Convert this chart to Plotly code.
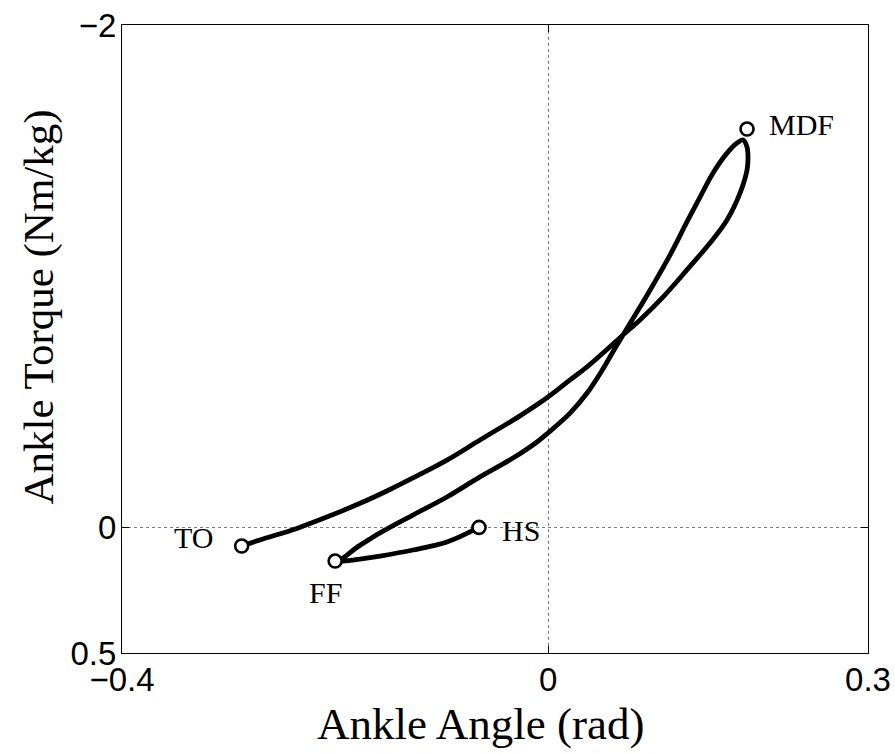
import plotly.graph_objects as go

# Ankle angle (rad) and torque (Nm/kg) along the gait cycle: HS -> FF -> MDF -> TO
angle = [-0.066, -0.0735, -0.0951, -0.127, -0.1579, -0.1767, -0.1926, -0.1983,
         -0.1926, -0.1804, -0.1673, -0.1579, -0.127, -0.0951, -0.0641, -0.0331,
         -0.0106, -0.0003, 0.0204, 0.0364, 0.0513, 0.0607, 0.0701, 0.0832,
         0.0983, 0.1142, 0.1301, 0.1424, 0.1546, 0.1677, 0.1771, 0.1828,
         0.1865, 0.1874, 0.1865, 0.1799, 0.1677, 0.1517, 0.1301, 0.1076, 0.086,
         0.0701, 0.0513, 0.0364, 0.0204, -0.0003, -0.0266, -0.0641, -0.0951,
         -0.127, -0.1486, -0.1739, -0.2049, -0.2359, -0.2678, -0.2866]
torque = [0.0, 0.018, 0.058, 0.09, 0.114, 0.126, 0.134, 0.134,
          0.122, 0.082, 0.046, 0.022, -0.049, -0.121, -0.201, -0.276,
          -0.34, -0.376, -0.455, -0.535, -0.631, -0.699, -0.766, -0.857,
          -0.965, -1.084, -1.216, -1.315, -1.411, -1.49, -1.53, -1.542,
          -1.514, -1.47, -1.423, -1.331, -1.224, -1.132, -1.025, -0.917, -0.826,
          -0.766, -0.694, -0.639, -0.587, -0.519, -0.444, -0.348, -0.268,
          -0.197, -0.151, -0.101, -0.046, 0.004, 0.046, 0.072]

event_names = ["HS", "FF", "MDF", "TO"]
event_angle = [-0.065, -0.200, 0.1865, -0.2877]
event_torque = [0.0, 0.134, -1.586, 0.074]

x_tickvals = [-0.4, 0, 0.3]
x_ticktext = ["\u22120.4", "0", "0.3"]
y_tickvals = [-2, 0, 0.5]
y_ticktext = ["\u22122", "0", "0.5"]

fig = go.Figure()
fig.add_trace(go.Scatter(
    x=angle, y=torque, mode="lines",
    line=dict(color="black", width=4.8, shape="spline", smoothing=1.0),
    showlegend=False, hoverinfo="skip"))
fig.add_trace(go.Scatter(
    x=event_angle, y=event_torque, mode="markers",
    marker=dict(symbol="circle", size=13, color="white",
                line=dict(color="black", width=2.6)),
    showlegend=False))

label_shift = {"HS": (42, -3), "FF": (-10, -31), "MDF": (54, 5), "TO": (-48, 8)}
for name, xa, yt in zip(event_names, event_angle, event_torque):
    dx, dy = label_shift[name]
    fig.add_annotation(x=xa, y=yt, text=name, showarrow=False,
                       xshift=dx, yshift=dy,
                       font=dict(family="Liberation Serif", size=30, color="black"))

axis_common = dict(
    showline=True, linecolor="black", linewidth=1, mirror="ticks",
    ticks="inside", ticklen=7, tickcolor="black",
    showgrid=True, gridcolor="#7a7a7a", griddash="dot", gridwidth=1,
    zeroline=False, automargin=False,
    tickfont=dict(family="Liberation Sans", size=33, color="black"),
)

fig.update_xaxes(range=[-0.4, 0.3], tickmode="array", tickvals=x_tickvals,
                 ticktext=x_ticktext, ticklabelstandoff=-3, **axis_common)
fig.update_yaxes(range=[0.5, -2], tickmode="array", tickvals=y_tickvals,
                 ticktext=y_ticktext, ticklabelstandoff=-2, **axis_common)

fig.add_annotation(xref="paper", yref="paper", x=0.480, y=-0.113,
                   text="Ankle Angle (rad)", showarrow=False,
                   xanchor="center", yanchor="middle",
                   font=dict(family="Liberation Serif", size=45, color="black"))
fig.add_annotation(xref="paper", yref="paper", x=-0.1113, y=0.5518,
                   text="Ankle Torque (Nm/kg)", showarrow=False, textangle=-90,
                   xanchor="center", yanchor="middle",
                   font=dict(family="Liberation Serif", size=43, color="black"))

fig.update_layout(
    width=895, height=753,
    margin=dict(l=122, r=27, t=25, b=100, autoexpand=False),
    paper_bgcolor="white", plot_bgcolor="white",
)

fig.write_html("out.html")
